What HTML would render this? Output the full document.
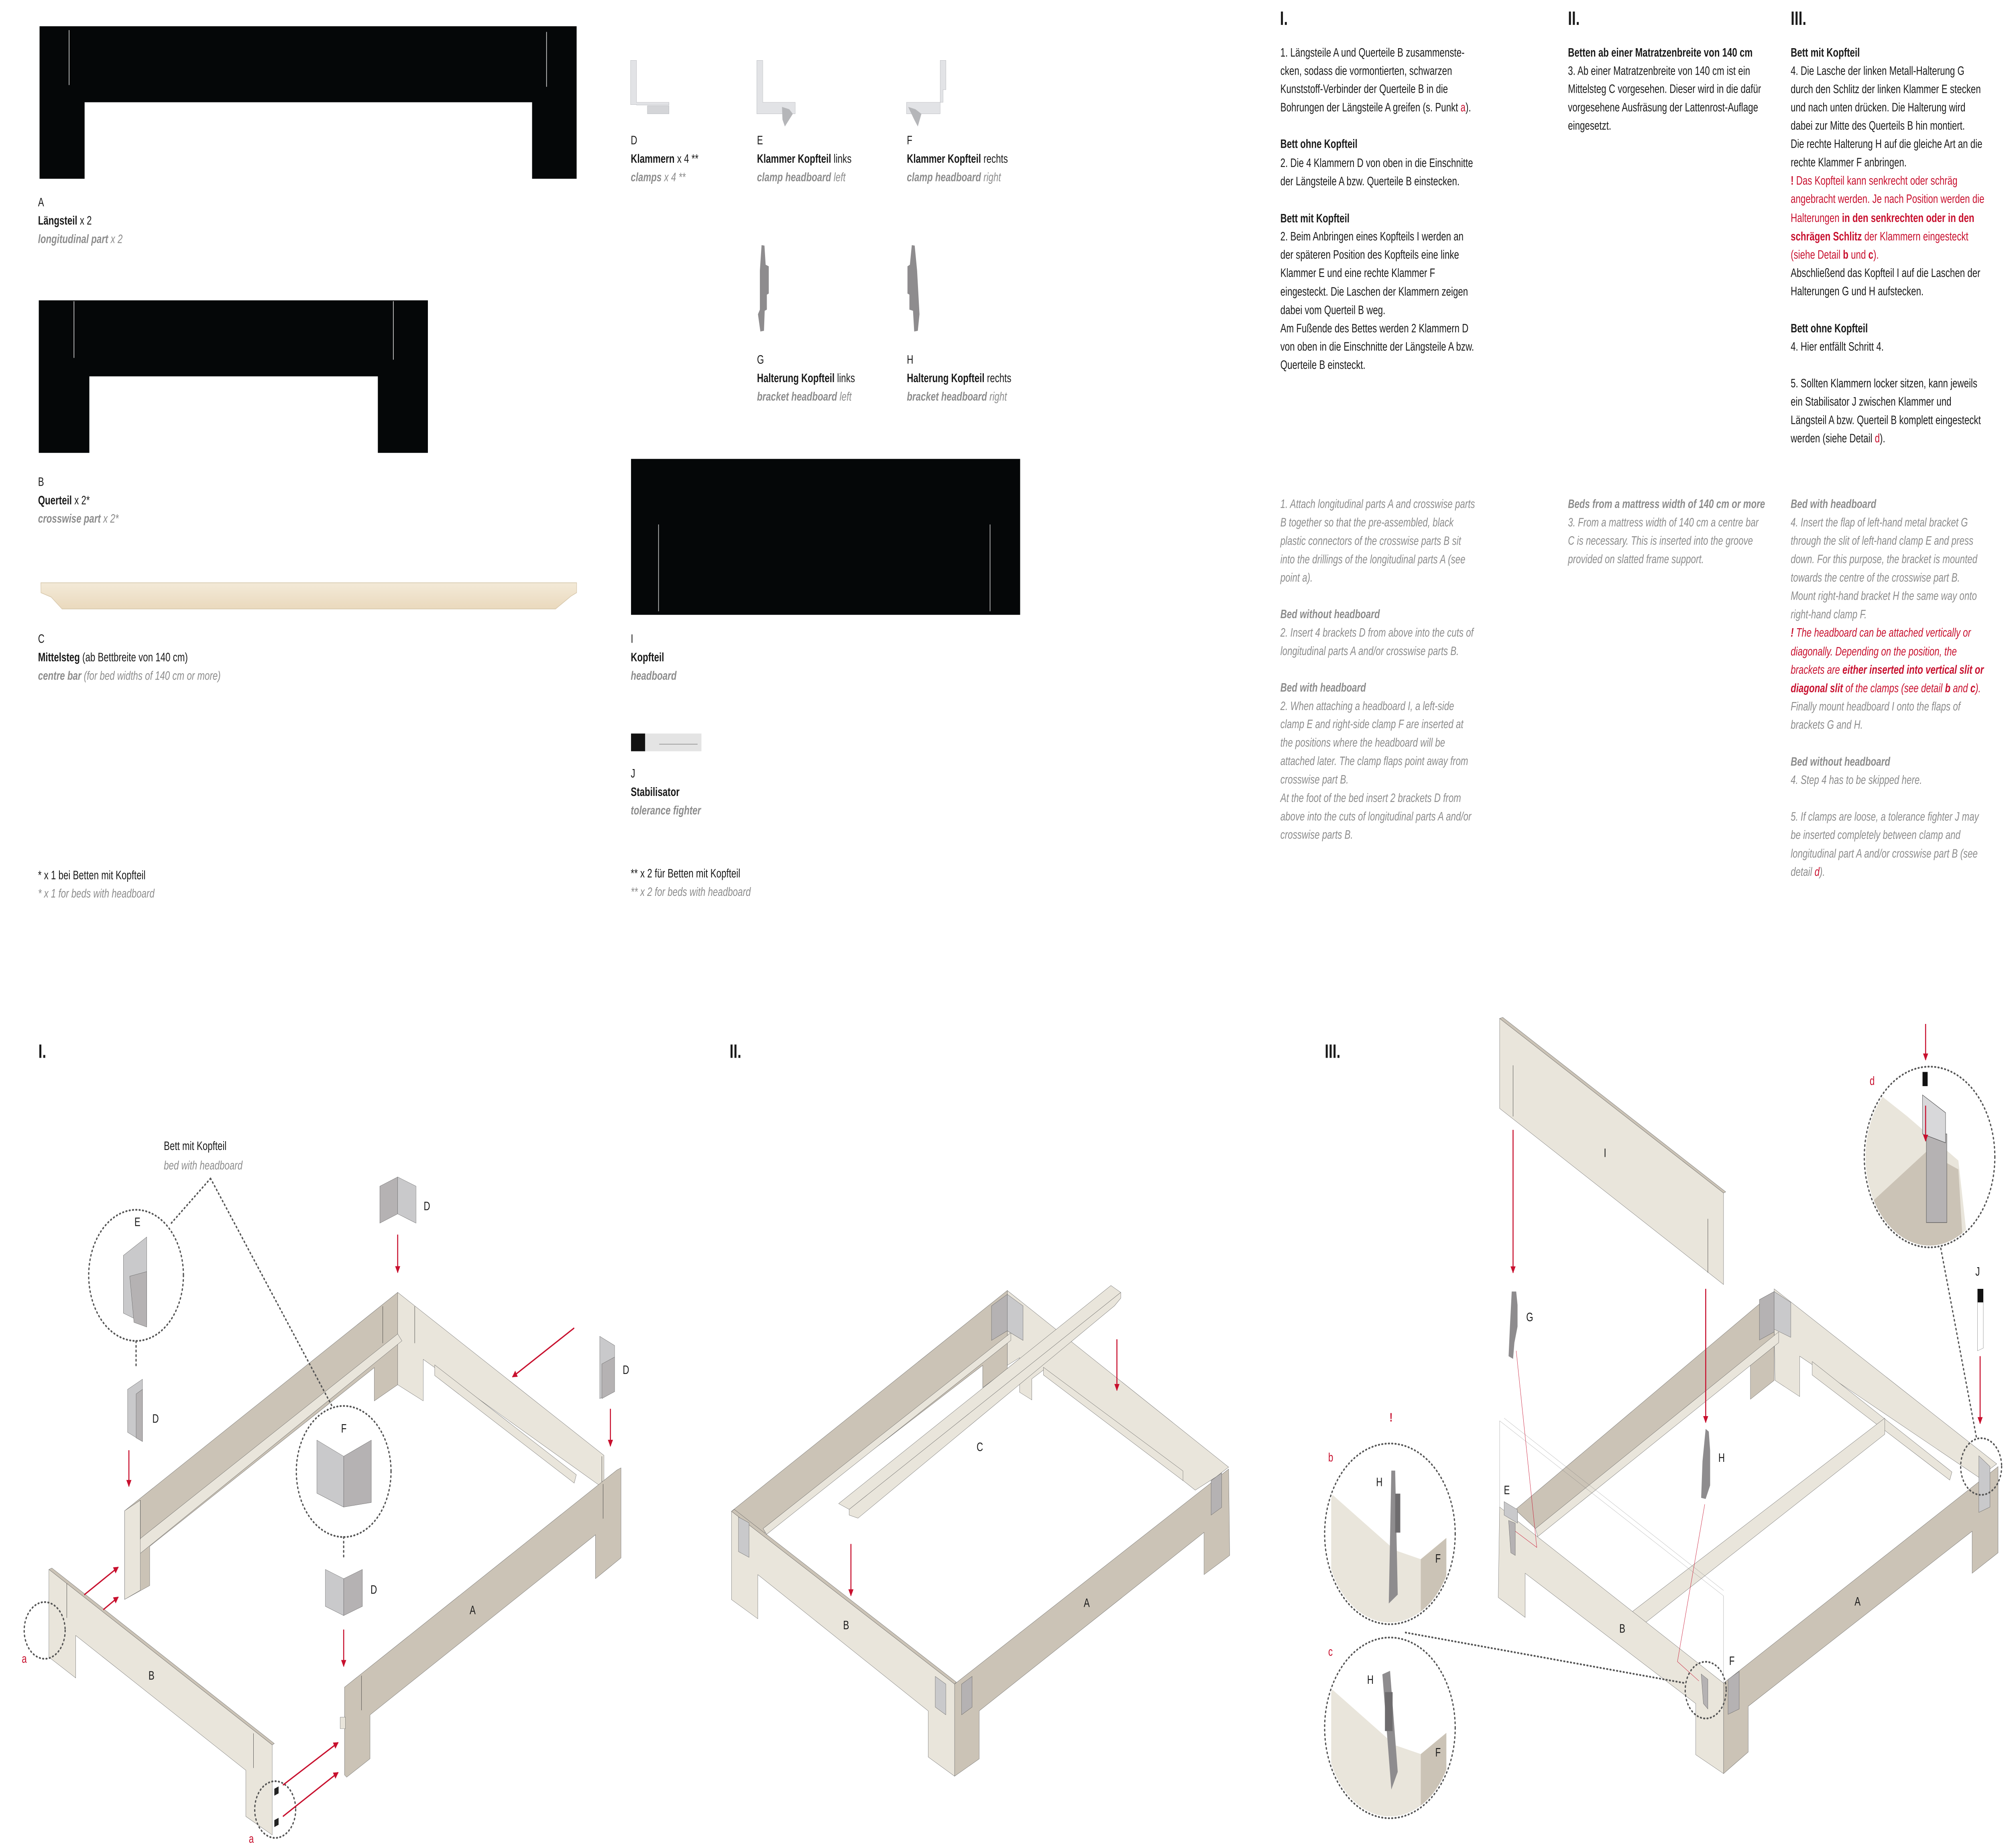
<!DOCTYPE html>
<html><head><meta charset="utf-8">
<style>
html,body{margin:0;padding:0;background:#fff;width:100%;height:100%;overflow:hidden;}
svg{display:block;position:absolute;left:0;top:0;width:100vw;height:100vh;}
text{font-family:"Liberation Sans",sans-serif;font-size:7px;fill:#1a1a1a;}
.g{fill:#8c8c8c;font-style:italic;}
.b{font-weight:bold;}
.r{fill:#c8102e;}
.h{font-size:11px;font-weight:bold;}
.lt{fill:#e9e5db;stroke:#555;stroke-width:0.6;vector-effect:non-scaling-stroke;}
.dk{fill:#cbc3b6;stroke:#555;stroke-width:0.6;vector-effect:non-scaling-stroke;}
.mt{fill:#c9c9cb;stroke:#555;stroke-width:0.6;vector-effect:non-scaling-stroke;}
.mt2{fill:#b5b2b3;stroke:#555;stroke-width:0.6;vector-effect:non-scaling-stroke;}
.sl{stroke:#333;stroke-width:0.8;vector-effect:non-scaling-stroke;fill:none;}
.ar{stroke:#c8102e;stroke-width:0.8;fill:none;}
.dot{stroke:#555;stroke-width:1;stroke-dasharray:0.6 2;stroke-linecap:round;fill:none;}
.thin{stroke:#777;stroke-width:0.5;vector-effect:non-scaling-stroke;fill:none;}
</style></head>
<body>
<svg viewBox="0 0 1568 1043" preserveAspectRatio="none" xmlns="http://www.w3.org/2000/svg">
<defs>
<marker id="ah" viewBox="0 0 10 10" refX="9" refY="5" markerWidth="5" markerHeight="5" orient="auto"><path d="M0,0L10,5L0,10z" fill="#c8102e"/></marker>
<linearGradient id="wood" x1="0" y1="0" x2="0" y2="1"><stop offset="0" stop-color="#f3ead8"/><stop offset="1" stop-color="#ead9bd"/></linearGradient>
</defs>

<!-- ===== TOP LEFT PARTS ===== -->
<path d="M30.9,14.8H450.5V100.9H415.7V57.7H66.1V100.9H30.9Z" fill="#050708"/>
<line x1="54" y1="17" x2="54" y2="48" stroke="#ddd" stroke-width="0.5"/>
<line x1="427" y1="18" x2="427" y2="49" stroke="#ddd" stroke-width="0.5"/>
<text x="29.7" y="116.4">A</text>
<text x="29.7" y="126.8"><tspan class="b">Längsteil</tspan> x 2</text>
<text x="29.7" y="137.2" class="g"><tspan class="b">longitudinal part</tspan> x 2</text>

<path d="M30.3,169.5H334.3V255.6H295.2V212.4H69.8V255.6H30.3Z" fill="#050708"/>
<line x1="57.8" y1="170" x2="57.8" y2="202" stroke="#ddd" stroke-width="0.5"/>
<line x1="307.3" y1="170" x2="307.3" y2="203" stroke="#ddd" stroke-width="0.5"/>
<text x="29.7" y="274.2">B</text>
<text x="29.7" y="284.6"><tspan class="b">Querteil</tspan> x 2*</text>
<text x="29.7" y="295" class="g"><tspan class="b">crosswise part</tspan> x 2*</text>

<path d="M31.9,328.9H450.5V334.5L446,336.5L434,343.7H48.5L40,337L32,334.5Z" fill="url(#wood)" stroke="#d8c9ae" stroke-width="0.4"/>
<text x="29.7" y="362.8">C</text>
<text x="29.7" y="373.2"><tspan class="b">Mittelsteg</tspan> (ab Bettbreite von 140 cm)</text>
<text x="29.7" y="383.6" class="g"><tspan class="b">centre bar</tspan> (for bed widths of 140 cm or more)</text>

<text x="29.7" y="496.2">*  x 1  bei Betten mit Kopfteil</text>
<text x="29.7" y="506.6" class="g">*  x 1  for beds with headboard</text>

<!-- ===== MIDDLE PARTS ===== -->
<g transform="translate(487,22.65) scale(0.1878,0.13)">
 <path d="M30,88H55V270H190V282H55V280H30Z" fill="#e2e3e6" stroke="#a8abb0" stroke-width="0.6" vector-effect="non-scaling-stroke"/>
 <path d="M100,285H190V320H100Z" fill="#d4d5d8" stroke="#a8abb0" stroke-width="0.6" vector-effect="non-scaling-stroke"/>
 <path d="M555,88H580V270H715V320H555Z" fill="#e2e3e6" stroke="#a8abb0" stroke-width="0.6" vector-effect="non-scaling-stroke"/>
 <path d="M660,290L690,300L705,320L672,375L662,345Z" fill="#b5b6b9"/>
 <path d="M1318,88H1342V215H1330V270H1178V320H1318Z" fill="#e2e3e6" stroke="#a8abb0" stroke-width="0.6" vector-effect="non-scaling-stroke"/>
 <path d="M1185,290L1215,300L1240,320L1225,375L1210,345Z" fill="#b5b6b9"/>
 <path d="M575,890L587,892L592,975L605,982L605,1100L597,1105L597,1170L588,1175L585,1262L570,1265L560,1190L568,1170L568,1000Z" fill="#8e8c8e"/>
 <path d="M1200,890L1212,892L1222,1000L1232,1190L1225,1262L1210,1265L1205,1175L1190,1170L1190,1105L1182,1100L1182,982L1192,975Z" fill="#8e8c8e"/>
</g>
<text x="492.8" y="81.5">D</text>
<text x="492.8" y="91.9"><tspan class="b">Klammern</tspan>  x 4 **</text>
<text x="492.8" y="102.3" class="g"><tspan class="b">clamps</tspan>  x 4 **</text>
<text x="591.4" y="81.5">E</text>
<text x="591.4" y="91.9"><tspan class="b">Klammer Kopfteil</tspan> links</text>
<text x="591.4" y="102.3" class="g"><tspan class="b">clamp headboard</tspan> left</text>
<text x="708.5" y="81.5">F</text>
<text x="708.5" y="91.9"><tspan class="b">Klammer Kopfteil</tspan> rechts</text>
<text x="708.5" y="102.3" class="g"><tspan class="b">clamp headboard</tspan> right</text>
<text x="591.4" y="205.3">G</text>
<text x="591.4" y="215.7"><tspan class="b">Halterung Kopfteil</tspan> links</text>
<text x="591.4" y="226.1" class="g"><tspan class="b">bracket headboard</tspan> left</text>
<text x="708.5" y="205.3">H</text>
<text x="708.5" y="215.7"><tspan class="b">Halterung Kopfteil</tspan> rechts</text>
<text x="708.5" y="226.1" class="g"><tspan class="b">bracket headboard</tspan> right</text>

<rect x="493" y="259" width="304" height="88" fill="#050708"/>
<line x1="514.5" y1="296" x2="514.5" y2="345" stroke="#ccc" stroke-width="0.5"/>
<line x1="773.5" y1="296" x2="773.5" y2="345" stroke="#ccc" stroke-width="0.5"/>
<text x="492.8" y="362.8">I</text>
<text x="492.8" y="373.2" class="b">Kopfteil</text>
<text x="492.8" y="383.6" class="g b">headboard</text>

<rect x="493" y="414" width="55" height="10" fill="#e4e4e4"/>
<rect x="493" y="414" width="11" height="10" fill="#111"/>
<line x1="515" y1="420" x2="545" y2="420" stroke="#999" stroke-width="0.4"/>
<text x="492.8" y="438.8">J</text>
<text x="492.8" y="449.2" class="b">Stabilisator</text>
<text x="492.8" y="459.6" class="g b">tolerance fighter</text>

<text x="492.8" y="495.2">** x 2 für Betten mit Kopfteil</text>
<text x="492.8" y="505.6" class="g">** x 2 for beds with headboard</text>

<!-- ===== RIGHT TEXT ===== -->
<text x="1000" y="14" class="h">I.</text>
<text x="1225" y="14" class="h">II.</text>
<text x="1399" y="14" class="h">III.</text>

<g>
<text x="1000.3" y="31.9">1. Längsteile A und Querteile B zusammenste-</text>
<text x="1000.3" y="42.2">cken, sodass die vormontierten, schwarzen</text>
<text x="1000.3" y="52.5">Kunststoff-Verbinder der Querteile B in die</text>
<text x="1000.3" y="62.9">Bohrungen der Längsteile A greifen (s. Punkt <tspan class="r">a</tspan>).</text>
<text x="1000.3" y="83.5" class="b">Bett ohne Kopfteil</text>
<text x="1000.3" y="94.2">2. Die 4 Klammern D von oben in die Einschnitte</text>
<text x="1000.3" y="104.5">der Längsteile A bzw. Querteile B einstecken.</text>
<text x="1000.3" y="125.5" class="b">Bett mit Kopfteil</text>
<text x="1000.3" y="135.7">2. Beim Anbringen eines Kopfteils I werden an</text>
<text x="1000.3" y="146">der späteren Position des Kopfteils eine linke</text>
<text x="1000.3" y="156.3">Klammer E und eine rechte Klammer F</text>
<text x="1000.3" y="166.8">eingesteckt. Die Laschen der Klammern zeigen</text>
<text x="1000.3" y="177.3">dabei vom Querteil B weg.</text>
<text x="1000.3" y="187.6">Am Fußende des Bettes werden 2 Klammern D</text>
<text x="1000.3" y="197.9">von oben in die Einschnitte der Längsteile A bzw.</text>
<text x="1000.3" y="208.2">Querteile B einsteckt.</text>

<text x="1225" y="31.9" class="b">Betten ab einer Matratzenbreite von 140 cm</text>
<text x="1225" y="42.2">3. Ab einer Matratzenbreite von 140 cm ist ein</text>
<text x="1225" y="52.5">Mittelsteg C vorgesehen. Dieser wird in die dafür</text>
<text x="1225" y="62.9">vorgesehene Ausfräsung der Lattenrost-Auflage</text>
<text x="1225" y="73.2">eingesetzt.</text>

<text x="1399" y="31.9" class="b">Bett mit Kopfteil</text>
<text x="1399" y="42.2">4. Die Lasche der linken Metall-Halterung G</text>
<text x="1399" y="52.6">durch den Schlitz der linken Klammer E stecken</text>
<text x="1399" y="62.9">und nach unten drücken. Die Halterung wird</text>
<text x="1399" y="73.2">dabei zur Mitte des Querteils B hin montiert.</text>
<text x="1399" y="83.5">Die rechte Halterung H auf die gleiche Art an die</text>
<text x="1399" y="93.9">rechte Klammer F anbringen.</text>
<text x="1399" y="104.2" class="r"><tspan class="b">!</tspan>  Das Kopfteil kann senkrecht oder schräg</text>
<text x="1399" y="114.5" class="r">angebracht werden. Je nach Position werden die</text>
<text x="1399" y="125.3" class="r">Halterungen <tspan class="b">in den senkrechten oder in den</tspan></text>
<text x="1399" y="135.7" class="r"><tspan class="b">schrägen Schlitz</tspan> der Klammern eingesteckt</text>
<text x="1399" y="146" class="r">(siehe Detail <tspan class="b">b</tspan> und <tspan class="b">c</tspan>).</text>
<text x="1399" y="156.3">Abschließend das Kopfteil I auf die Laschen der</text>
<text x="1399" y="166.6">Halterungen G und H aufstecken.</text>
<text x="1399" y="187.6" class="b">Bett ohne Kopfteil</text>
<text x="1399" y="197.9">4. Hier entfällt Schritt 4.</text>
<text x="1399" y="218.6">5. Sollten Klammern locker sitzen, kann jeweils</text>
<text x="1399" y="228.9">ein Stabilisator J zwischen Klammer und</text>
<text x="1399" y="239.3">Längsteil A bzw. Querteil B komplett eingesteckt</text>
<text x="1399" y="249.6">werden (siehe Detail <tspan class="r">d</tspan>).</text>
</g>

<g>
<text class="g" x="1000.3" y="286.7">1. Attach longitudinal parts A and crosswise parts</text>
<text class="g" x="1000.3" y="297.1">B together so that the pre-assembled, black</text>
<text class="g" x="1000.3" y="307.5">plastic connectors of the crosswise parts B sit</text>
<text class="g" x="1000.3" y="317.9">into the drillings of the longitudinal parts A (see</text>
<text class="g" x="1000.3" y="328.3">point a).</text>
<text class="g b" x="1000.3" y="348.9">Bed without headboard</text>
<text class="g" x="1000.3" y="359.3">2. Insert 4 brackets D from above into the cuts of</text>
<text class="g" x="1000.3" y="369.7">longitudinal parts A and/or crosswise parts B.</text>
<text class="g b" x="1000.3" y="390.3">Bed with headboard</text>
<text class="g" x="1000.3" y="400.7">2. When attaching a headboard I, a left-side</text>
<text class="g" x="1000.3" y="411">clamp E and right-side clamp F are inserted at</text>
<text class="g" x="1000.3" y="421.4">the positions where the headboard will be</text>
<text class="g" x="1000.3" y="431.8">attached later. The clamp flaps point away from</text>
<text class="g" x="1000.3" y="442.2">crosswise part B.</text>
<text class="g" x="1000.3" y="452.6">At the foot of the bed insert 2 brackets D from</text>
<text class="g" x="1000.3" y="463">above into the cuts of longitudinal parts A and/or</text>
<text class="g" x="1000.3" y="473.4">crosswise parts B.</text>

<text class="g b" x="1225" y="286.7">Beds from a mattress width of 140 cm or more</text>
<text class="g" x="1225" y="297.1">3. From a mattress width of 140 cm a centre bar</text>
<text class="g" x="1225" y="307.4">C is necessary.  This is inserted into the groove</text>
<text class="g" x="1225" y="317.8">provided on slatted frame support.</text>

<text class="g b" x="1399" y="286.7">Bed with headboard</text>
<text class="g" x="1399" y="297.1">4. Insert the flap of left-hand metal bracket G</text>
<text class="g" x="1399" y="307.4">through the slit of left-hand clamp E and press</text>
<text class="g" x="1399" y="317.8">down. For this purpose, the bracket is mounted</text>
<text class="g" x="1399" y="328.3">towards the centre of the crosswise part B.</text>
<text class="g" x="1399" y="338.6">Mount right-hand bracket H the same way onto</text>
<text class="g" x="1399" y="349">right-hand clamp F.</text>
<text class="g r" x="1399" y="359.3"><tspan class="b">!</tspan>  The headboard can be attached vertically or</text>
<text class="g r" x="1399" y="369.9">diagonally. Depending on the position, the</text>
<text class="g r" x="1399" y="380.2">brackets are <tspan class="b">either inserted into vertical slit or</tspan></text>
<text class="g r" x="1399" y="390.7"><tspan class="b">diagonal slit</tspan> of the clamps (see detail <tspan class="b">b</tspan> and <tspan class="b">c</tspan>).</text>
<text class="g" x="1399" y="401">Finally mount headboard I onto the flaps of</text>
<text class="g" x="1399" y="411.3">brackets G and H.</text>
<text class="g b" x="1399" y="432.1">Bed without headboard</text>
<text class="g" x="1399" y="442.4">4. Step 4 has to be skipped here.</text>
<text class="g" x="1399" y="463.2">5. If  clamps are loose, a tolerance fighter J may</text>
<text class="g" x="1399" y="473.5">be inserted completely between clamp and</text>
<text class="g" x="1399" y="484">longitudinal part A and/or crosswise part B (see</text>
<text class="g" x="1399" y="494.3">detail <tspan class="r">d</tspan>).</text>
</g>

<!-- ===== DIAGRAM I ===== -->
<text x="30" y="597" class="h">I.</text>
<g transform="translate(0,634.3) scale(0.3323,0.2606)">
 <path class="lt" d="M935,365L1420,718L1420,790L995,510L995,600L935,565Z"/>
 <path class="lt" d="M1022,522L1355,760L1350,778L1022,545Z"/>
 <path class="dk" d="M293,838L935,365L935,565L880,600L880,528L352,915L352,1000L293,1030Z"/>
 <path class="lt" d="M300,920L935,455L945,470L310,945Z"/>
 <path class="lt" d="M293,838L330,815L330,1010L293,1030Z"/>
 <path class="sl" d="M900,395V475M975,395V475M330,815V900M1415,720V780"/>
 <path class="dk" d="M810,1220L1450,750L1460,745L1460,940L1400,985L1400,890L870,1280L870,1375L815,1415L810,1410Z"/>
 <path class="sl" d="M850,1195V1270M1418,780V855"/>
 <path class="lt" d="M800,1285L812,1285L812,1310L800,1310Z"/>
 <path class="lt" d="M115,965L640,1345L640,1540L578,1500L578,1400L178,1108L178,1200L115,1155Z"/>
 <path class="dk" d="M115,965L122,962L645,1342L640,1345Z"/>
 <path class="sl" d="M157,995V1070M596,1320V1395"/>
 <path d="M645,1440L655,1435V1450L645,1455ZM645,1508L655,1503V1518L645,1523Z" fill="#222"/>
 <path class="mt2" d="M893,135L935,115V195L893,215Z"/><path class="mt" d="M935,115L978,135V215L935,195Z"/>
 <path class="mt" d="M300,575L335,553V688L300,668Z"/><path class="mt2" d="M320,585L335,575V688L320,680Z"/>
 <path class="mt" d="M1410,460L1445,480V580L1410,595Z"/><path class="mt2" d="M1415,520L1445,505V580L1415,595Z"/>
 <path class="mt" d="M765,965L808,985V1065L765,1045Z"/><path class="mt2" d="M808,985L852,965V1045L808,1065Z"/>
 <path class="mt" d="M290,285L345,245V435L290,410Z"/><path class="mt2" d="M305,330L345,320V440L315,430Z"/>
 <path class="mt" d="M745,685L808,720V830L745,800Z"/><path class="mt2" d="M808,720L873,685V820L808,830Z"/>
</g>
<circle cx="106.3" cy="719.8" r="37" class="dot"/>
<circle cx="268.5" cy="830.5" r="37" class="dot"/>
<circle cx="34.9" cy="920.2" r="16" class="dot"/>
<circle cx="215" cy="1021.3" r="16" class="dot"/>
<path class="dot" d="M164.5,665.1L132.9,691.1M164.5,665.1L259.2,793.3M106.3,757V771M268.5,867.5V880"/>
<g class="ar" marker-end="url(#ah)">
<line x1="310.7" y1="696.8" x2="310.7" y2="718.2"/>
<line x1="100.7" y1="818.5" x2="100.7" y2="838.9"/>
<line x1="268.5" y1="919.7" x2="268.5" y2="940.5"/>
<line x1="476.9" y1="795.1" x2="476.9" y2="816.2"/>
<line x1="448.6" y1="749.5" x2="400.4" y2="777.1"/>
<line x1="65.8" y1="900.1" x2="92.4" y2="884.5"/>
<line x1="80.7" y1="908.5" x2="92.4" y2="901.4"/>
<line x1="221" y1="1007.5" x2="264.2" y2="983.5"/>
<line x1="221" y1="1025.2" x2="264.2" y2="1000.4"/>
</g>
<text x="128" y="649">Bett mit Kopfteil</text>
<text x="128" y="660" class="g">bed with headboard</text>
<text x="331" y="683">D</text><text x="119" y="803">D</text><text x="289.5" y="899.5">D</text><text x="486.5" y="775.5">D</text>
<text x="105" y="692">E</text><text x="266.5" y="808.5">F</text>
<text x="366.9" y="911">A</text><text x="116" y="948">B</text>
<text x="17" y="938.5" class="r">a</text><text x="194.4" y="1040" class="r">a</text>

<!-- ===== DIAGRAM II ===== -->
<text x="570" y="597" class="h">II.</text>
<g transform="translate(555,679.6) scale(0.2745,0.2167)">
 <path class="lt" d="M845,225L1475,685L1440,710L1380,745L948,432L915,455L915,510L880,490L880,400L845,420Z"/>
 <path class="lt" d="M948,425L1345,695L1345,720L948,445Z"/>
 <path class="dk" d="M60,800L845,225L845,430L775,478L775,420L150,860Z"/>
 <path class="lt" d="M150,845L855,335L855,355L160,860Z"/>
 <path class="dk" d="M695,1250L1475,690L1478,915L1405,965L1405,855L765,1320L765,1445L695,1490Z"/>
 <path class="lt" d="M60,800L695,1250L695,1490L620,1440L620,1320L135,965L135,1080L60,1030Z"/>
 <path class="dk" d="M60,800L68,795L700,1245L695,1250Z"/>
 <path class="lt" d="M365,780L1140,212L1168,230L395,795Z"/>
 <path class="lt" d="M395,795L1168,230L1168,245L1150,265L420,818L395,810Z"/>
 <path class="mt" d="M80,815L110,830V920L80,905Z"/><path class="mt" d="M640,1230L670,1250V1330L640,1310Z"/>
 <path class="mt2" d="M715,1250L745,1230V1310L715,1330Z"/><path class="mt2" d="M1425,720L1455,700V790L1425,810Z"/>
 <path class="mt2" d="M800,265L845,235V330L800,355Z"/><path class="mt" d="M845,235L890,265V355L845,330Z"/>
</g>
<g class="ar" marker-end="url(#ah)">
<line x1="664.8" y1="871.4" x2="664.8" y2="900.6"/>
<line x1="872.6" y1="755.9" x2="872.6" y2="784.7"/>
</g>
<text x="763" y="819">C</text><text x="658.7" y="919.5">B</text><text x="846.7" y="907">A</text>

<!-- ===== DIAGRAM III ===== -->
<text x="1035" y="597" class="h">III.</text>
<g transform="translate(1019.4,566.3) scale(0.3499,0.304)">
 <path class="lt" d="M435,28L935,352L935,522L435,195Z"/>
 <path class="dk" d="M435,28L442,26L940,350L935,352Z"/>
 <path class="sl" d="M465,115V210M900,400V500"/>
 <path class="lt" d="M1048,530L1545,855L1505,880L1105,655L1105,730L1050,700L1048,600Z"/>
 <path class="lt" d="M1133,665L1445,870L1440,885L1133,690Z"/>
 <path class="dk" d="M470,940L1048,535L1048,700L995,735L995,668L515,975Z"/>
 <path class="lt" d="M515,975L1058,610L1058,630L520,990Z"/>
 <path class="lt" d="M730,1130L1295,770L1295,800L760,1150Z"/>
 <path class="dk" d="M935,1262L1548,860L1548,1020L1490,1058L1490,980L990,1305L990,1390L935,1430Z"/>
 <path class="lt" d="M435,935L935,1262L935,1430L873,1395L873,1300L492,1058L492,1140L432,1103Z"/>
 <path class="thin" d="M435,775L935,1100L935,1262M435,775V935M445,770L935,1090"/>
 <path class="mt2" d="M1015,550L1048,535V610L1015,625Z"/><path class="mt" d="M1048,535L1085,555V620L1048,605Z"/>
 <path class="mt" d="M445,925L475,940V965L445,950Z"/><path class="mt2" d="M455,960L470,965V1025L460,1020Z"/>
 <path class="mt2" d="M945,1255L970,1240V1310L945,1320Z"/><path class="mt2" d="M885,1245L900,1255V1310L890,1300Z"/>
 <path class="mt" d="M1505,840L1530,860V935L1505,945Z"/>
 <path d="M462,535L472,535L475,560L475,600L468,630L465,660L455,655L458,600Z" fill="#8e8c8e"/>
 <path d="M895,790L902,795L905,830L905,895L895,920L885,918L888,850Z" fill="#8e8c8e"/>
 <path d="M1502,530L1515,530V555L1502,555Z" fill="#111"/><path d="M1502,555H1515V640L1502,645Z" fill="#fff" stroke="#444" stroke-width="0.5" vector-effect="non-scaling-stroke"/>
 <path class="ar" d="M472,645L518,1010L470,980" vector-effect="non-scaling-stroke"/>
 <path class="ar" d="M893,930L832,1222L880,1258" vector-effect="non-scaling-stroke"/>
</g>
<clipPath id="cd"><circle cx="1507.5" cy="653" r="50"/></clipPath>
<g clip-path="url(#cd)">
 <path d="M1455,610L1490,630L1530,655L1540,720L1455,720Z" fill="#e9e5db"/>
 <path d="M1460,680L1505,650L1530,660L1535,720L1460,720Z" fill="#cbc3b6"/>
 <rect x="1505" y="640" width="16" height="50" fill="#b5b2b3" stroke="#555" stroke-width="0.3"/>
 <path d="M1502,618L1520,628L1520,645L1502,640Z" fill="#d8d8da" stroke="#555" stroke-width="0.3"/>
 <rect x="1502" y="605" width="4" height="8" fill="#111"/>
</g>
<circle cx="1507.5" cy="653" r="51" class="dot"/>
<clipPath id="cb"><circle cx="1085.9" cy="865.7" r="50"/></clipPath>
<g clip-path="url(#cb)">
 <path d="M1040,843L1090,875L1110,880L1110,920L1040,920Z" fill="#e9e5db"/>
 <path d="M1110,880L1130,868L1130,920L1110,920Z" fill="#cbc3b6"/>
 <path d="M1087,830L1090,830L1092,900L1085,905Z" fill="#8e8c8e"/>
 <rect x="1090" y="843" width="4" height="22" fill="#6e6c6e"/>
</g>
<circle cx="1085.9" cy="865.7" r="51" class="dot"/>
<clipPath id="cc"><circle cx="1085.9" cy="975.2" r="50"/></clipPath>
<g clip-path="url(#cc)">
 <path d="M1040,953L1090,985L1110,990L1110,1030L1040,1030Z" fill="#e9e5db"/>
 <path d="M1110,990L1130,978L1130,1030L1110,1030Z" fill="#cbc3b6"/>
 <path d="M1080,945L1086,943L1092,1000L1087,1010Z" fill="#8e8c8e"/>
 <rect x="1082" y="955" width="6" height="22" fill="#6e6c6e"/>
</g>
<circle cx="1085.9" cy="975.2" r="51" class="dot"/>
<circle cx="1332.6" cy="953.9" r="16" class="dot"/>
<circle cx="1547.8" cy="827.7" r="16" class="dot"/>
<path class="dot" d="M1098.1,921.4L1316.8,950M1516.3,704.6L1544.3,812"/>
<g class="ar" marker-end="url(#ah)">
<line x1="1182.1" y1="637.7" x2="1182.1" y2="718.3"/>
<line x1="1332.6" y1="727.4" x2="1332.6" y2="802.8"/>
<line x1="1547" y1="765.4" x2="1547" y2="803.4"/>
<line x1="1504.4" y1="577.9" x2="1504.4" y2="598.2"/>
<line x1="1504.4" y1="624" x2="1504.4" y2="644"/>
</g>
<text x="1253" y="653">I</text>
<text x="1192.4" y="745.7">G</text><text x="1342.5" y="825.1">H</text>
<text x="1174.9" y="843.3">E</text><text x="1350.9" y="939.7">F</text>
<text x="1265.1" y="921.5">B</text><text x="1448.9" y="906.2">A</text>
<text x="1543.3" y="719.9">J</text>
<text x="1460.7" y="612.3" class="r">d</text>
<text x="1037.7" y="824.8" class="r">b</text>
<text x="1037.7" y="934.5" class="r">c</text>
<text x="1085.6" y="802.3" class="r b">!</text>
<text x="1075.1" y="838.8">H</text><text x="1121.3" y="881.9">F</text>
<text x="1068.1" y="950.3">H</text><text x="1121.3" y="991.4">F</text>
</svg>
</body></html>
